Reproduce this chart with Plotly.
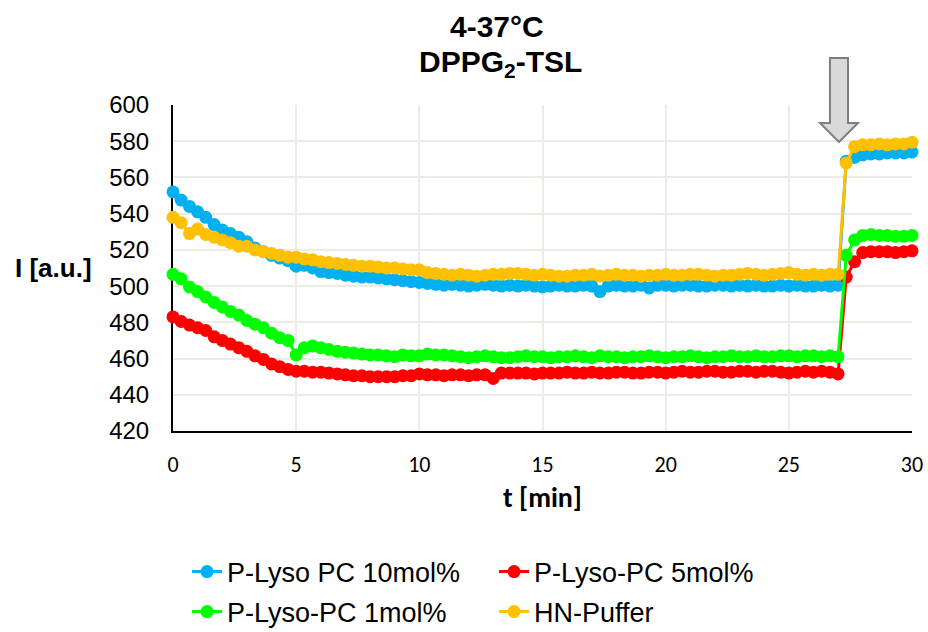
import plotly.graph_objects as go

# time in minutes
t_min = [
    0, 0.33, 0.67, 1, 1.33, 1.67, 2, 2.33, 2.67, 3,
    3.33, 3.67, 4, 4.33, 4.67, 5, 5.33, 5.67, 6, 6.33,
    6.67, 7, 7.33, 7.67, 8, 8.33, 8.67, 9, 9.33, 9.67,
    10, 10.33, 10.67, 11, 11.33, 11.67, 12, 12.33, 12.67, 13,
    13.33, 13.67, 14, 14.33, 14.67, 15, 15.33, 15.67, 16, 16.33,
    16.67, 17, 17.33, 17.67, 18, 18.33, 18.67, 19, 19.33, 19.67,
    20, 20.33, 20.67, 21, 21.33, 21.67, 22, 22.33, 22.67, 23,
    23.33, 23.67, 24, 24.33, 24.67, 25, 25.33, 25.67, 26, 26.33,
    26.67, 27, 27.33, 27.67, 28, 28.33, 28.67, 29, 29.33, 29.67,
    30,
]

lyso_pc_10 = [
    552, 547.5, 544, 541, 538, 534, 531, 529, 527, 524.5,
    521, 519, 517, 515.5, 514, 511, 511.5, 510, 508, 507.5,
    507, 506, 505.5, 505, 505, 504.5, 504, 503.5, 503, 502.5,
    502, 501.5, 501, 500.5, 501, 500.5, 500, 500.5, 501, 500.5,
    500, 500.5, 500, 500.5, 500, 499.5, 500, 500.5, 500, 500,
    500.5, 500, 497, 500, 500.5, 500, 500, 500.5, 499, 500.5,
    500.5, 500, 500.5, 500.5, 500, 500, 500.5, 500.5, 500, 500.5,
    500, 500.5, 500, 500, 500.5, 500, 500.5, 500, 500, 500.5,
    500, 500.5, 569, 571, 572.5, 573, 573, 573.5, 573.5, 573.5,
    574,
]

lyso_pc_5 = [
    483, 480.5, 478.5, 477, 475.5, 472, 470, 468, 466, 464,
    461.5, 459.5, 457, 455.5, 454, 453, 453, 452.5, 452.5, 452,
    451.5, 451, 450.5, 450.5, 450, 450, 450, 450, 450.5, 450.5,
    451.5, 451, 451, 450.5, 451, 451, 450.5, 451, 451, 449,
    452, 452, 452, 452, 451.5, 452, 452, 452, 452.5, 452,
    452, 452.5, 452, 452, 452.5, 452.5, 452, 452, 452.5, 452.5,
    452, 452.5, 453, 452.5, 452.5, 453, 453, 452.5, 452.5, 453,
    453, 452.5, 453, 453, 452.5, 452, 452.5, 453, 452.5, 453,
    452.5, 451.5, 505, 513.5, 518.5, 519, 519, 519, 518.5, 519,
    519.5,
]

lyso_pc_1 = [
    506.5, 504, 499.5, 497, 494, 491, 488.5, 486, 484, 481,
    479, 477, 474, 471.5, 470, 462, 466, 467, 466, 465,
    464, 463.5, 463, 462.5, 462, 462, 461.5, 461, 462, 461.5,
    461.5, 462.5, 462, 462, 461.5, 461, 460.5, 461, 461.5, 461,
    460.5, 460.5, 461, 461.5, 461, 461, 460.5, 461, 461, 461.5,
    461, 460.5, 461.5, 461, 461, 460.5, 461, 461, 461.5, 461,
    460.5, 461, 461, 461.5, 461, 460.5, 461, 461, 461.5, 461,
    461, 461.5, 461, 461, 461.5, 461.5, 461, 461.5, 461.5, 461,
    461.5, 461, 517, 525.5, 528, 528.5, 528, 528, 527.5, 527.5,
    528,
]

hn_puffer = [
    538, 535, 529, 531.5, 528.5, 527, 525.5, 524, 522, 522,
    520, 519, 518, 517, 516, 516, 515, 514.5, 513.5, 513,
    512.5, 512, 511.5, 511, 511, 510.5, 510, 510, 509.5, 509,
    509, 507.5, 507, 506.5, 506, 506.5, 506, 505.5, 506, 506.5,
    506.5, 507, 507, 506.5, 506, 506.5, 506, 505.5, 505.5, 506,
    506, 506.5, 505.5, 506, 506.5, 506, 506, 505.5, 506, 506,
    506.5, 506, 506, 506.5, 506.5, 506, 505.5, 506, 506, 506.5,
    507, 506.5, 506, 506.5, 507, 507.5, 506.5, 506, 506.5, 506,
    506.5, 506.5, 568, 577, 578, 578, 578.5, 578, 578.5, 578.5,
    579.5,
]

series_names = ["P-Lyso PC 10mol%", "P-Lyso-PC 5mol%", "P-Lyso-PC 1mol%", "HN-Puffer"]
series_values = [lyso_pc_10, lyso_pc_5, lyso_pc_1, hn_puffer]
series_colors = ["#00B0F0", "#FF0000", "#00FF00", "#FFC000"]
series_legends = ["legend", "legend", "legend2", "legend2"]

x_ticks = [0, 5, 10, 15, 20, 25, 30]
y_ticks = [420, 440, 460, 480, 500, 520, 540, 560, 580, 600]

fig = go.Figure()
for name, vals, col, lg in zip(series_names, series_values, series_colors, series_legends):
    fig.add_trace(go.Scatter(
        x=t_min, y=vals, name=name, mode="lines+markers",
        line=dict(color=col, width=3),
        marker=dict(color=col, size=13),
        cliponaxis=False, legend=lg,
    ))

W, H = 928, 632
grid = "#EDEBE3"
legend_font = dict(family="Liberation Sans, Arial", size=27, color="black")
fig.update_layout(
    width=W, height=H,
    margin=dict(l=173, r=16, t=105, b=201, autoexpand=False),
    paper_bgcolor="white", plot_bgcolor="white",
    showlegend=True,
    xaxis=dict(
        range=[0, 30], tickvals=x_ticks, showgrid=True, gridcolor=grid, gridwidth=1.5,
        showline=True, linecolor="black", linewidth=2, zeroline=False, ticks="",
        tickfont=dict(family="Carlito, Lato", size=22, color="black"),
        ticklabelstandoff=13, layer="below traces", automargin=False,
        title=dict(text="<b>t [min]</b>", font=dict(family="Carlito, Lato", size=28, color="black"),
                   standoff=10),
    ),
    yaxis=dict(
        range=[420, 600], tickvals=y_ticks, showgrid=True, gridcolor=grid, gridwidth=1.5,
        showline=True, linecolor="black", linewidth=2, zeroline=False, ticks="",
        tickfont=dict(family="Liberation Sans, Arial", size=24, color="black"),
        ticklabelstandoff=17, layer="below traces", automargin=False,
    ),
    legend=dict(
        orientation="h", x=0.019, xanchor="left", xref="paper",
        y=1 - 572 / H, yanchor="middle", yref="container",
        entrywidth=262, entrywidthmode="pixels",
        font=legend_font, bgcolor="rgba(0,0,0,0)",
    ),
    legend2=dict(
        orientation="h", x=0.019, xanchor="left", xref="paper",
        y=1 - 612 / H, yanchor="middle", yref="container",
        entrywidth=262, entrywidthmode="pixels",
        font=legend_font, bgcolor="rgba(0,0,0,0)",
    ),
)

title_font = dict(family="Liberation Sans, Arial", size=30, color="black")
fig.add_annotation(
    text="<b>4-37°C</b>", xref="paper", yref="paper", x=0.4384, y=1.242,
    xanchor="center", yanchor="middle", showarrow=False, font=title_font,
)
fig.add_annotation(
    text="<b>DPPG<sub>2</sub>-TSL</b>", xref="paper", yref="paper", x=0.4425, y=1.128,
    xanchor="center", yanchor="middle", showarrow=False, font=title_font,
)

# y-axis title (horizontal)
fig.add_annotation(
    text="<b>I [a.u.]</b>", xref="paper", yref="paper", x=-0.162, y=0.5,
    xanchor="center", yanchor="middle", showarrow=False,
    font=dict(family="Liberation Sans, Arial", size=26, color="black"),
)

# grey down arrow marking the addition
fig.add_shape(
    type="path", xref="paper", yref="paper",
    path="M0.8890,1.1442 L0.9134,1.1442 L0.9134,0.9448 L0.9269,0.9448 "
         "L0.9012,0.8865 L0.8755,0.9448 L0.8890,0.9448 Z",
    fillcolor="#D9D9D9", line=dict(color="#7F7F7F", width=2),
)

# remove the browser's default 8px page margin so the figure fills the window
fig.write_html(
    "out.html",
    config={"displayModeBar": False},
    post_script="document.body.style.margin='0';document.body.style.overflow='hidden';",
)
